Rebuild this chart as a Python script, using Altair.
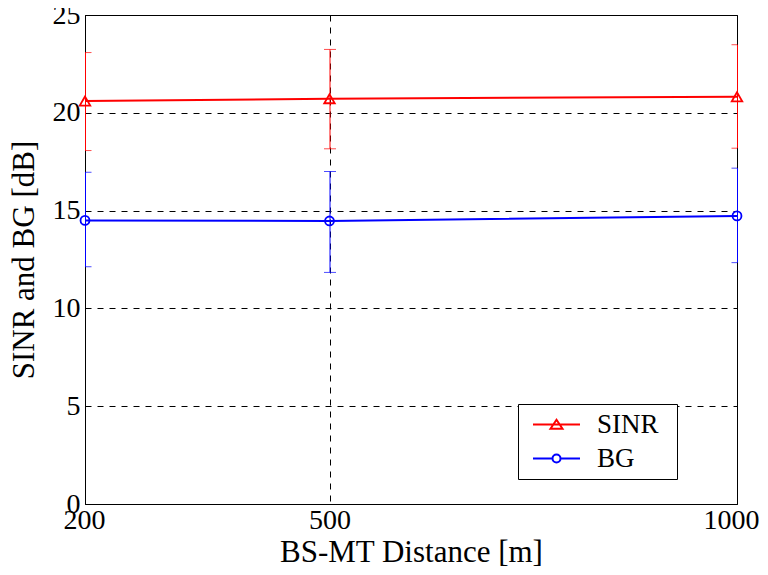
import altair as alt
import pandas as pd

distances = [200, 500, 1000]
series_names = ["SINR", "BG"]
series_colors = ["#ff0000", "#0000ff"]
series_markers = ["triangle-up", "circle"]
sinr_mean = [20.6, 20.72, 20.82]
sinr_low = [18.07, 18.16, 18.19]
sinr_high = [23.08, 23.24, 23.48]
bg_mean = [14.5, 14.47, 14.73]
bg_low = [12.13, 11.84, 12.34]
bg_high = [16.96, 17.0, 17.17]

rows = []
for name, m, lo, hi in [("SINR", sinr_mean, sinr_low, sinr_high),
                        ("BG", bg_mean, bg_low, bg_high)]:
    for d, a, b, c in zip(distances, m, lo, hi):
        rows.append({"dist": d, "series": name, "mean": a, "lo": b, "hi": c})
df = pd.DataFrame(rows)

FONT = "Liberation Serif"
x_scale = alt.Scale(domain=[200, 1000], nice=False)
y_scale = alt.Scale(domain=[0, 25], nice=False)
x_axis = alt.Axis(values=distances, title="BS-MT Distance [m]", format="d",
                  grid=True, gridDash=[6, 6], gridColor="#000000",
                  labelFontSize=28, titleFontSize=31, labelPadding=2,
                  titlePadding=3, tickSize=0, labelFlush=True, labelFlushOffset=22,
                  zindex=0)
y_axis = alt.Axis(values=[0, 5, 10, 15, 20, 25], title="SINR and BG [dB]",
                  grid=True, gridDash=[6, 6], gridColor="#000000",
                  labelFontSize=28, titleFontSize=31, labelPadding=5,
                  titlePadding=12, tickSize=0, zindex=0)

base = alt.Chart(df)
layers = []
first = True
for name, col, mk in zip(series_names, series_colors, series_markers):
    sub = base.transform_filter(alt.datum.series == name)
    if first:
        xe = alt.X("dist:Q", scale=x_scale, axis=x_axis)
        ye = alt.Y("lo:Q", scale=y_scale, axis=y_axis)
        first = False
    else:
        xe = alt.X("dist:Q", scale=x_scale)
        ye = alt.Y("lo:Q", scale=y_scale)
    layers.append(sub.mark_rule(strokeWidth=1, color=col, xOffset=0.5).encode(
        x=xe, y=ye, y2="hi:Q"))
    layers.append(sub.mark_tick(thickness=1, size=12, orient="horizontal", clip=True,
                                color=col, xOffset=0.5).encode(
        x="dist:Q", y=alt.Y("hi:Q", scale=y_scale)))
    layers.append(sub.mark_tick(thickness=1, size=12, orient="horizontal", clip=True,
                                color=col, xOffset=0.5).encode(
        x="dist:Q", y=alt.Y("lo:Q", scale=y_scale)))
    layers.append(sub.mark_line(strokeWidth=2, color=col).encode(
        x="dist:Q", y=alt.Y("mean:Q", scale=y_scale)))
    layers.append(sub.mark_point(filled=False, strokeWidth=1.8, color=col, opacity=1,
                                 size=(110 if mk == "triangle-up" else 80),
                                 shape=mk).encode(
        x="dist:Q", y=alt.Y("mean:Q", scale=y_scale)))

legend_paths = [
    "M-4.7,0H4.7M-1.2,0.85L0,-0.95L1.2,0.85Z",
    "M-4.7,0H-0.8M0.8,0H4.7M0.8,0A0.8,0.8 0 1,1 -0.8,0A0.8,0.8 0 1,1 0.8,0",
]
legend_cfg = dict(
    title="I", titleOrient="right", titleColor="transparent", titleFontSize=27,
    titlePadding=0, titleFont=FONT,
    orient="none", legendX=433, legendY=389,
    labelFontSize=27, labelFont=FONT, symbolSize=100,
    symbolStrokeWidth=2, symbolFillColor="transparent",
    symbolOpacity=1, symbolOffset=18,
    labelOffset=27, padding=7, rowPadding=6,
    strokeColor="#000000", fillColor="#ffffff",
)
legend_layer = base.transform_filter("false").mark_point(filled=False, opacity=1).encode(
    x="dist:Q", y=alt.Y("mean:Q", scale=y_scale),
    color=alt.Color("series:N", scale=alt.Scale(domain=series_names, range=series_colors),
                    legend=alt.Legend(**legend_cfg)),
    shape=alt.Shape("series:N", scale=alt.Scale(domain=series_names, range=legend_paths),
                    legend=alt.Legend(**legend_cfg)),
)
layers.append(legend_layer)

chart = alt.layer(*layers).properties(
    width=652, height=489,
    autosize=alt.AutoSizeParams(type="none"),
    padding={"left": 77, "top": 7, "right": 22, "bottom": 63},
).configure(background="#ffffff").configure_view(
    stroke="#000000", strokeWidth=1
).configure_axis(
    labelFont=FONT, titleFont=FONT, labelColor="#000000", titleColor="#000000",
    titleFontWeight="normal", domainColor="#000000", domainWidth=1,
    gridOpacity=1, gridWidth=1,
)

chart.save("out.html", embed_options={"renderer": "svg", "actions": False})
